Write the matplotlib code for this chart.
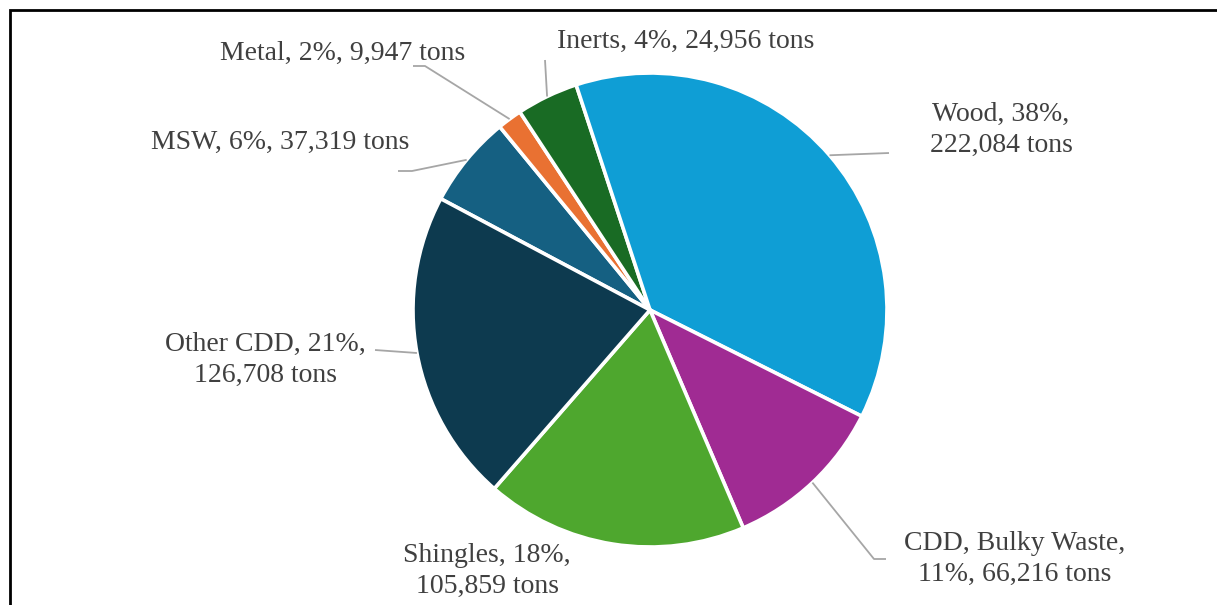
import matplotlib
matplotlib.use("Agg")
import matplotlib.pyplot as plt
from matplotlib.patches import Rectangle
import numpy as np

# data, in the order the slices run clockwise from the MSW slice
names = ["MSW", "Metal", "Inerts", "Wood", "CDD, Bulky Waste", "Shingles", "Other CDD"]
tons = [37319, 9947, 24956, 222084, 66216, 105859, 126708]
colors = ["#156082", "#E97132", "#196B24", "#0F9ED5", "#A02B93", "#4EA72E", "#0D3A4F"]

W, H = 1217, 605
cx, cy, R = 650, 310, 237   # pie centre / radius in pixels


def px(x, y):
    # pixel (from top-left) -> data units of the pie axes
    return (x - cx) / R, (cy - y) / R


fig = plt.figure(figsize=(W / 100, H / 100), dpi=100)
ax = fig.add_axes([(cx - R) / W, (H - cy - R) / H, 2 * R / W, 2 * R / H])

wedges, _ = ax.pie(tons, colors=colors, startangle=152, counterclock=False,
                   radius=1, wedgeprops=dict(edgecolor="white", linewidth=2.6))
ax.set_xlim(-1, 1)
ax.set_ylim(-1, 1)
ax.axis("off")

total = sum(tons)
labels = []
for n, t in zip(names, tons):
    pct = round(100 * t / total)
    labels.append(f"{n}, {pct}%, {t:,} tons")
labels[3] = f"Wood, 38%,\n{tons[3]:,} tons"
labels[4] = f"CDD, Bulky Waste,\n11%, {tons[4]:,} tons"
labels[5] = f"Shingles, 18%,\n{tons[5]:,} tons"
labels[6] = f"Other CDD, 21%,\n{tons[6]:,} tons"

# label centres and leader line points (pixels), None = no leader
text_pos = [(280, 142), (343, 53), (686, 41), (1001, 130), (1015, 559), (487, 571), (265, 360)]
leaders = [
    [(412, 171), (398, 171)],
    [(425, 66), (413, 66)],
    [(545, 60)],
    [(889, 153)],
    [(874, 559), (886, 559)],
    None,
    [(375, 350)],
]

for w, lab, tp, ld in zip(wedges, labels, text_pos, leaders):
    tx, ty = px(*tp)
    ax.text(tx, ty, lab, ha="center", va="center", fontsize=20,
            family="Liberation Serif", color="#404040", linespacing=1.35,
            clip_on=False)
    if ld is None:
        continue
    mid = np.deg2rad((w.theta1 + w.theta2) / 2)
    xs = [np.cos(mid)] + [px(*p)[0] for p in ld]
    ys = [np.sin(mid)] + [px(*p)[1] for p in ld]
    ax.plot(xs, ys, color="#A6A6A6", linewidth=1.3, clip_on=False,
            solid_capstyle="butt")

# outer frame (only top and left visible in the crop)
fig.patches.append(Rectangle((10 / W, -0.2), 1.2, 1 - 10 / H + 0.2,
                             transform=fig.transFigure, fill=False,
                             edgecolor="black", linewidth=2))

fig.savefig("out.png", dpi=100, facecolor="white")
